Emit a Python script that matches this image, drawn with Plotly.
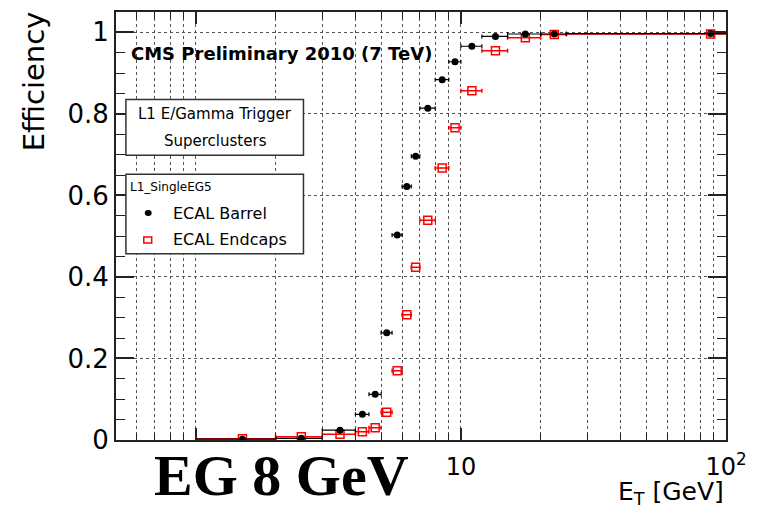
import plotly.graph_objects as go

# ---- data ----
et_center = [1.5, 2.5, 3.5, 4.25, 4.75, 5.25, 5.75, 6.25, 6.75, 7.5, 8.5, 9.5, 11, 13.5, 17.5, 22.5, 87.5]
et_low = [1, 2, 3, 4, 4.5, 5, 5.5, 6, 6.5, 7, 8, 9, 10, 12, 15, 20, 25]
et_high = [2, 3, 4, 4.5, 5, 5.5, 6, 6.5, 7, 8, 9, 10, 12, 15, 20, 25, 150]
eff_barrel = [0.002, 0.004, 0.024, 0.063, 0.112, 0.263, 0.503, 0.622, 0.696, 0.814,
              0.884, 0.928, 0.966, 0.990, 0.996, 0.996, 0.997]
eff_endcap = [0.003, 0.008, 0.014, 0.020, 0.030, 0.068, 0.170, 0.307, 0.424, 0.539,
              0.667, 0.766, 0.857, 0.955, 0.987, 0.995, 0.996]
y_ticks = [0, 0.2, 0.4, 0.6, 0.8, 1.0]
y_ticklabels = ["0", "0.2", "0.4", "0.6", "0.8", "1"]
x_major = [1, 10, 100]
x_major_labels = [" ", "10", "10<sup>2</sup>"]
x_minor = [0.6, 0.7, 0.8, 0.9, 2, 3, 4, 5, 6, 7, 8, 9, 20, 30, 40, 50, 60, 70, 80, 90]

err_plus = [h - c for h, c in zip(et_high, et_center)]
err_minus = [c - l for c, l in zip(et_center, et_low)]

# plot-area geometry (pixels) used to place overlay boxes
L, R, T, B = 116, 731, 10, 440
W, H = R - L, B - T
def px(x):
    return (x - L) / W
def py(y):
    return (B - y) / H

fig = go.Figure()
fig.add_trace(go.Scatter(
    x=et_center, y=eff_endcap, mode="markers", name="ECAL Endcaps",
    marker=dict(symbol="square-open", size=8, color="#ff0000", line=dict(width=1.5, color="#ff0000")),
    error_x=dict(type="data", symmetric=False, array=err_plus, arrayminus=err_minus,
                 color="#ff0000", thickness=1.5, width=2),
))
fig.add_trace(go.Scatter(
    x=et_center, y=eff_barrel, mode="markers", name="ECAL Barrel",
    marker=dict(symbol="circle", size=7, color="#000000"),
    error_x=dict(type="data", symmetric=False, array=err_plus, arrayminus=err_minus,
                 color="#000000", thickness=1.2, width=2),
))

axis_col = "#222222"
grid = dict(showgrid=True, gridcolor="#555555", griddash="dot", gridwidth=1)

fig.update_xaxes(
    type="log", range=[-0.30103, 2], tickmode="array", tickvals=x_major, ticktext=x_major_labels,
    ticks="inside", ticklen=12, tickwidth=1.5, tickcolor=axis_col,
    showline=True, linecolor=axis_col, linewidth=2, mirror="allticks",
    tickfont=dict(family="DejaVu Sans", size=24, color="#000"),
    ticklabelstandoff=4,
    minor=dict(tickmode="array", tickvals=x_minor, ticks="inside", ticklen=7, tickwidth=1.2,
               tickcolor=axis_col, showgrid=True, gridcolor="#555555", griddash="dot", gridwidth=1),
    zeroline=False, **grid,
)
fig.update_yaxes(
    range=[0, 1.05], tickmode="array", tickvals=y_ticks, ticktext=y_ticklabels,
    ticks="inside", ticklen=18, tickwidth=1.5, tickcolor=axis_col,
    showline=True, linecolor=axis_col, linewidth=2, mirror="allticks",
    tickfont=dict(family="DejaVu Sans", size=26, color="#000"),
    minor=dict(dtick=0.05, ticks="inside", ticklen=9, tickwidth=1.2, tickcolor=axis_col, showgrid=False),
    zeroline=False, **grid,
)

shapes = [
    dict(type="rect", xref="paper", yref="paper", x0=px(126), x1=px(305), y0=py(154), y1=py(98),
         fillcolor="white", line=dict(color="#333333", width=1.5), layer="above"),
    dict(type="rect", xref="paper", yref="paper", x0=px(126), x1=px(305), y0=py(253), y1=py(173),
         fillcolor="white", line=dict(color="#333333", width=1.5), layer="above"),
    dict(type="circle", xref="paper", yref="paper", x0=px(145), x1=px(152), y0=py(215), y1=py(209),
         fillcolor="black", line=dict(color="black", width=0), layer="above"),
    dict(type="rect", xref="paper", yref="paper", x0=px(144), x1=px(152), y0=py(242), y1=py(236),
         fillcolor="white", line=dict(color="#ff0000", width=1.5), layer="above"),
]

sans = "DejaVu Sans"
ann = [
    dict(text="<b>CMS Preliminary 2010 (7 TeV)</b>", x=px(129), y=py(52), xanchor="left", yanchor="middle",
         font=dict(family=sans, size=18, color="#000")),
    dict(text="L1 E/Gamma Trigger", x=px(216), y=py(112), xanchor="center", yanchor="middle",
         font=dict(family=sans, size=15, color="#000")),
    dict(text="Superclusters", x=px(216), y=py(140), xanchor="center", yanchor="middle",
         font=dict(family=sans, size=15, color="#000")),
    dict(text="L1_SingleEG5", x=px(128), y=py(186), xanchor="left", yanchor="middle",
         font=dict(family=sans, size=12, color="#000")),
    dict(text="ECAL Barrel", x=px(171), y=py(212), xanchor="left", yanchor="middle",
         font=dict(family=sans, size=16, color="#000")),
    dict(text="ECAL Endcaps", x=px(171), y=py(239), xanchor="left", yanchor="middle",
         font=dict(family=sans, size=16, color="#000")),
    dict(text="Efficiency", x=px(33), y=py(80), xanchor="center", yanchor="middle", textangle=-90,
         font=dict(family=sans, size=29, color="#000")),
    dict(text="E<sub>T</sub> [GeV]", x=px(731), y=py(493), xanchor="right", yanchor="middle",
         font=dict(family=sans, size=25, color="#000")),
    dict(text="<b>EG 8 GeV</b>", x=px(283), y=py(476), xanchor="center", yanchor="middle",
         font=dict(family="Liberation Serif", size=58, color="#000")),
]
for a in ann:
    a.update(xref="paper", yref="paper", showarrow=False)

fig.update_layout(
    width=757, height=508, margin=dict(l=L, r=757 - R, t=T, b=508 - B),
    paper_bgcolor="white", plot_bgcolor="white", showlegend=False,
    shapes=shapes, annotations=ann,
)
fig.write_html("out.html")
